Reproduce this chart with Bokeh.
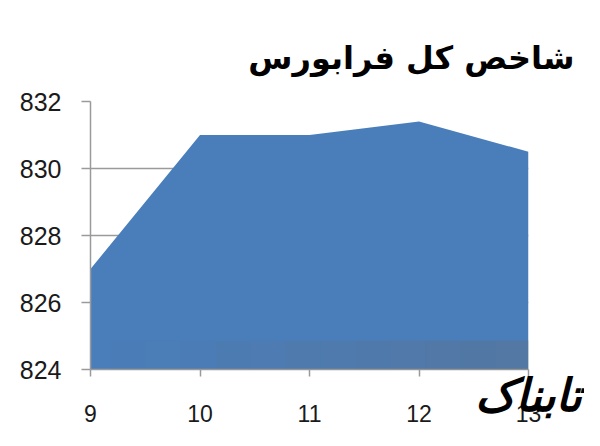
from bokeh.plotting import figure
from bokeh.models import Range1d, FixedTicker, BoxAnnotation
from bokeh.embed import file_html
from bokeh.resources import INLINE

# ---- data ----
days = [9, 10, 11, 12, 13]
index_values = [827.0, 831.0, 831.0, 831.4, 830.5]
y_ticks = [824, 826, 828, 830, 832]
x_ticks = [9, 10, 11, 12, 13]
title_text = "شاخص کل فرابورس"
watermark_text = "تابناک"
y_min, y_max = 824, 832

W, H = 584, 430
p = figure(width=W, height=H, output_backend="svg", toolbar_location=None,
           x_range=Range1d(days[0], days[-1]), y_range=Range1d(y_min, y_max),
           min_border_left=90, min_border_right=56, min_border_top=101,
           min_border_bottom=61)
p.background_fill_color = "white"
p.border_fill_color = "white"
p.outline_line_color = None

p.title.text = title_text
p.title.align = "right"
p.title.offset = -46
p.title.standoff = 50
p.title.text_line_height = 0.6
p.title.text_font = "DejaVu Sans"
p.title.text_font_style = "bold"
p.title.text_font_size = "32px"
p.title.text_color = "black"

p.varea(x=days, y1=[y_min] * len(days), y2=index_values,
        fill_color="#4a7ebb")

grid_col = "#9a9a9a"
p.xgrid.grid_line_color = None
p.ygrid.grid_line_color = grid_col
p.ygrid.grid_line_width = 1.5
p.ygrid.ticker = FixedTicker(ticks=y_ticks)

for ax in (p.xaxis[0], p.yaxis[0]):
    ax.axis_line_color = grid_col
    ax.axis_line_width = 1.5
    ax.major_tick_line_color = grid_col
    ax.major_tick_line_width = 1.5
    ax.minor_tick_line_color = None
    ax.major_tick_in = 0
    ax.major_label_text_font = "Liberation Sans"
    ax.major_label_text_color = "#1a1a1a"

p.yaxis.ticker = FixedTicker(ticks=y_ticks)
p.yaxis.major_tick_out = 9
p.yaxis.major_label_text_font_size = "25px"
p.yaxis.major_label_standoff = 20

p.xaxis.ticker = FixedTicker(ticks=x_ticks)
p.xaxis.major_tick_out = 7
p.xaxis.major_label_text_font_size = "23px"
p.xaxis.major_label_standoff = 28

# watermark as x-axis label
p.xaxis.axis_label = watermark_text
p.xaxis.axis_label_align = "end"
p.xaxis.axis_label_standoff = -56
p.xaxis.axis_label_text_font = "DejaVu Sans"
p.xaxis.axis_label_text_font_style = "bold italic"
p.xaxis.axis_label_text_font_size = "45px"
p.xaxis.axis_label_text_color = "black"

# grey watermark band inside the frame (approximate gradient)
n = 14
for i in range(n):
    l = 110 + i * (600 - 110) / n
    r = 110 + (i + 1) * (600 - 110) / n
    band = BoxAnnotation(left=l, right=r, top=340, bottom=446,
                         left_units="canvas", right_units="canvas",
                         top_units="canvas", bottom_units="canvas",
                         fill_color="#6a6a6a", fill_alpha=0.03 + 0.3 * i / (n - 1),
                         line_color=None, level="overlay")
    p.add_layout(band)

open("out.html", "w").write(file_html(p, INLINE))
